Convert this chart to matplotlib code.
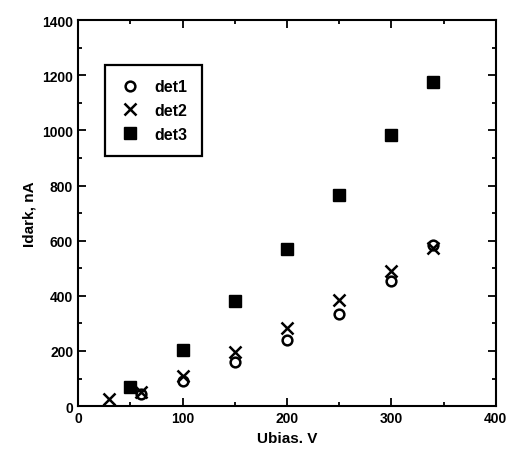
import matplotlib
matplotlib.use("Agg")
import matplotlib.pyplot as plt
from matplotlib.ticker import MultipleLocator

plt.rcParams['font.family'] = ['Liberation Sans', 'DejaVu Sans']
plt.rcParams['font.weight'] = 'bold'

# data
det1_x = [60, 100, 150, 200, 250, 300, 340]
det1_y = [45, 90, 160, 240, 335, 452, 585]
det2_x = [30, 60, 100, 150, 200, 250, 300, 340]
det2_y = [25, 50, 110, 195, 285, 385, 490, 575]
det3_x = [50, 100, 150, 200, 250, 300, 340]
det3_y = [70, 205, 380, 570, 765, 983, 1175]

fig = plt.figure(figsize=(5.07, 4.60), dpi=100)
ax = fig.add_axes([0.154, 0.115, 0.824, 0.839])

ax.plot(det1_x, det1_y, 'o', mfc='none', mec='black', mew=1.8, ms=7, label='det1', ls='none')
ax.plot(det2_x, det2_y, 'x', color='black', mew=1.8, ms=8, label='det2', ls='none')
ax.plot(det3_x, det3_y, 's', color='black', ms=8.5, label='det3', ls='none')

ax.set_xlim(0, 400)
ax.set_ylim(0, 1400)
ax.xaxis.set_major_locator(MultipleLocator(100))
ax.xaxis.set_minor_locator(MultipleLocator(50))
ax.yaxis.set_major_locator(MultipleLocator(200))
ax.yaxis.set_minor_locator(MultipleLocator(100))
ax.tick_params(which='both', direction='in', top=True, right=True, width=1.3, labelsize=10)
ax.tick_params(which='major', length=6)
ax.tick_params(which='minor', length=3)
for s in ax.spines.values():
    s.set_linewidth(1.5)

ax.set_xlabel('Ubias. V', fontsize=11, fontweight='bold')
ax.set_ylabel('Idark, nA', fontsize=11, fontweight='bold')

leg = ax.legend(loc='upper left', bbox_to_anchor=(0.045, 0.905), fancybox=False,
                edgecolor='black', framealpha=1, fontsize=11.5, handletextpad=0.9,
                borderpad=0.9, labelspacing=0.55, handlelength=1.3)
leg.get_frame().set_linewidth(1.6)

fig.savefig('out.png', dpi=100)
